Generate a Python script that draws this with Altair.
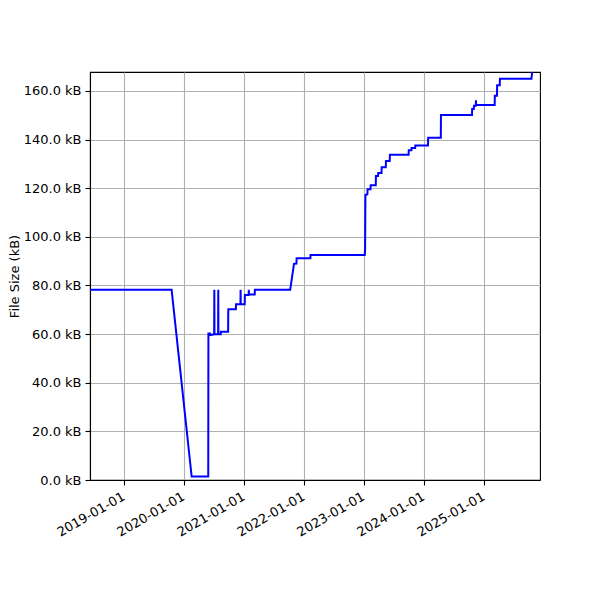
import altair as alt
import pandas as pd

dates = [
    "2018-06-06", "2019-10-16", "2020-02-15", "2020-05-26", "2020-05-27",
    "2020-06-05", "2020-06-06", "2020-07-01", "2020-07-02", "2020-07-03",
    "2020-07-25", "2020-07-26", "2020-07-27", "2020-08-10", "2020-08-11",
    "2020-09-24", "2020-09-25", "2020-11-10", "2020-11-11", "2020-12-08",
    "2020-12-09", "2020-12-10", "2021-01-03", "2021-01-04", "2021-01-27",
    "2021-01-28", "2021-01-29", "2021-03-05", "2021-03-06", "2021-10-07",
    "2021-10-30", "2021-11-14", "2021-11-15", "2022-02-07", "2022-02-08",
    "2023-01-04", "2023-01-06", "2023-01-08", "2023-01-20", "2023-01-21",
    "2023-02-08", "2023-02-09", "2023-03-12", "2023-03-13", "2023-03-26",
    "2023-03-27", "2023-04-16", "2023-04-17", "2023-05-12", "2023-05-13",
    "2023-06-05", "2023-06-06", "2023-09-28", "2023-09-29", "2023-10-15",
    "2023-10-16", "2023-11-07", "2023-11-08", "2024-01-24", "2024-01-25",
    "2024-04-11", "2024-04-12", "2024-10-18", "2024-10-19", "2024-10-29",
    "2024-10-30", "2024-11-10", "2024-11-11", "2024-11-12", "2025-03-05",
    "2025-03-06", "2025-03-19", "2025-03-20", "2025-04-05", "2025-04-06",
    "2025-10-15", "2025-10-20",
]
sizes_kb = [
    78.2, 78.2, 1.4, 1.4, 60.3,
    60.3, 59.6, 59.9, 78.2, 59.9,
    59.9, 78.2, 59.9, 59.9, 61.0,
    61.0, 70.2, 70.2, 72.3, 72.3,
    78.2, 72.3, 72.3, 76.1, 76.1,
    78.2, 76.3, 76.3, 78.2, 78.2,
    88.9, 89.0, 91.2, 91.2, 92.5,
    92.5, 95.0, 117.2, 117.5, 119.6,
    119.6, 121.2, 121.2, 125.0, 125.0,
    126.3, 126.3, 128.6, 128.6, 131.2,
    131.2, 133.8, 133.8, 135.6, 135.6,
    136.5, 136.5, 137.6, 137.6, 140.8,
    140.8, 150.1, 150.1, 152.6, 152.6,
    153.9, 153.9, 156.2, 154.2, 154.2,
    158.0, 158.0, 162.4, 162.4, 165.0,
    165.0, 168.5,
]
tick_years = [2019, 2020, 2021, 2022, 2023, 2024, 2025]

df = pd.DataFrame({"date": dates, "size": sizes_kb})

FONT = "DejaVu Sans"

chart = alt.Chart(df).mark_line(color="#0000ff", strokeWidth=2, clip=True).encode(
    x=alt.X(
        "date:T",
        scale=alt.Scale(
            type="utc",
            domain=[
                alt.DateTime(year=2018, month=6, date=6, utc=True),
                alt.DateTime(year=2025, month=12, date=6, utc=True),
            ],
        ),
        axis=alt.Axis(
            title=None,
            values=[alt.DateTime(year=y, month=1, date=1, utc=True) for y in tick_years],
            format="%Y-%m-%d",
            labelAngle=-30,
            labelAlign="right",
            labelBaseline="top",
            labelPadding=5,
            labelOffset=-4,
            labelOverlap=False,
            grid=True,
        ),
    ),
    y=alt.Y(
        "size:Q",
        scale=alt.Scale(domain=[0, 167.8], nice=False, zero=True),
        axis=alt.Axis(
            title="File Size (kB)",
            values=[0, 20, 40, 60, 80, 100, 120, 140, 160],
            labelExpr="format(datum.value, '.1f') + ' kB'",
            labelPadding=4,
            titlePadding=2,
            grid=True,
        ),
    ),
).properties(
    width=450,
    height=408,
    background="white",
    autosize=alt.AutoSizeParams(type="none"),
    padding={"left": 82, "top": 64, "right": 52, "bottom": 100},
).configure_view(
    stroke="black", strokeWidth=1.1
).configure_axis(
    labelFont=FONT,
    titleFont=FONT,
    labelFontSize=13,
    titleFontSize=13,
    titleFontWeight="normal",
    labelColor="black",
    titleColor="black",
    domainColor="black",
    tickColor="black",
    tickSize=5,
    tickWidth=1.1,
    domainWidth=1.1,
    gridColor="#b0b0b0",
    gridWidth=1.1,
    gridOpacity=1,
    labelFlush=False,
)

chart.save("out.html", embed_options={"renderer": "svg", "actions": False})
